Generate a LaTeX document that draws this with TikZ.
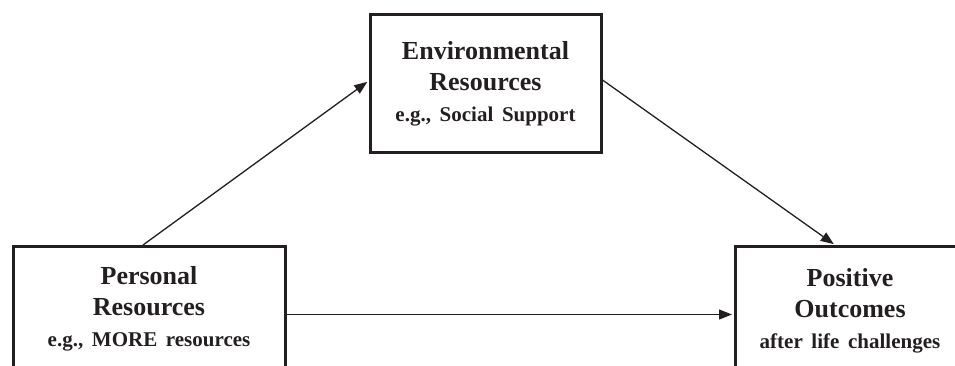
\documentclass[tikz,border=0pt]{standalone}
\usepackage{fontspec}
\setmainfont{Liberation Serif}
\usepackage{tikz}
\usepackage{xcolor}
\usetikzlibrary{arrows.meta}
\definecolor{ink}{RGB}{35,31,32}

\begin{document}
\begin{tikzpicture}[x=1pt,y=-1pt,
  box/.style={draw=ink,line width=3pt,text=ink,align=center,text width=215pt,inner sep=0pt,
    font=\bfseries\fontsize{26}{31}\selectfont},
  link/.style={draw=ink,line width=1.3pt,-{Triangle[length=13pt,width=10pt]},shorten >=1.5pt},
  small/.style={}]

\useasboundingbox (0,0) rectangle (955,366);
\clip (0,0) rectangle (955,366);

\node[box,minimum width=231pt,minimum height=138pt] (environ) at (485.5,84)
  {Environmental\\Resources\\{\fontsize{21}{31}\selectfont e.g., Social Support}};
\node[box,anchor=north,minimum width=272pt,minimum height=124pt] (personal) at (149,245)
  {Personal\\Resources\\{\fontsize{21}{31}\selectfont e.g., MORE resources}};
\node[box,anchor=north,minimum width=230pt,minimum height=128pt] (outcome) at (850,245)
  {Positive\\Outcomes\\{\fontsize{21}{31}\selectfont after life challenges}};

\draw[link] ([xshift=-6pt]personal.north) -- ([yshift=3pt]environ.west);
\draw[link] ([yshift=4pt]environ.east) -- ([xshift=-15pt]outcome.north);
\draw[link] ([yshift=-6pt]personal.east) -- ([yshift=-6pt]personal.east -| outcome.west);

\end{tikzpicture}
\end{document}
